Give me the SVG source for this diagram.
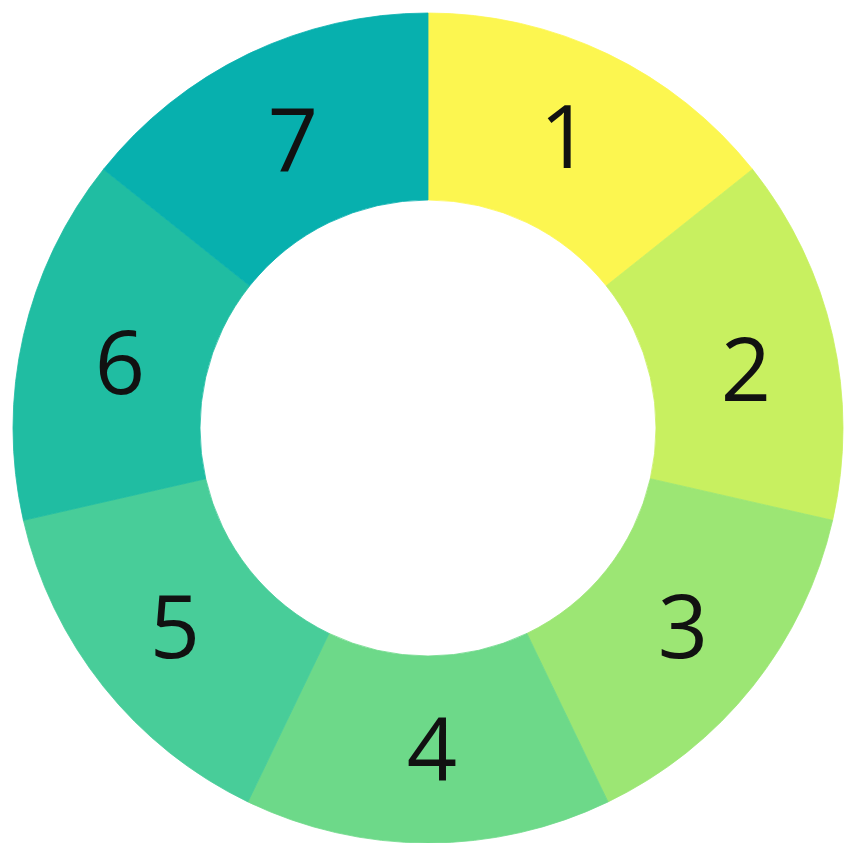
<svg xmlns="http://www.w3.org/2000/svg" width="848" height="843" viewBox="0 0 848 843">
<style>
.lbl{font-family:"Open Sans","Liberation Sans",sans-serif;font-size:88px;fill:#111;text-anchor:middle}
path{stroke-width:0.8}
</style>
<rect width="848" height="843" fill="#fff"/>
<g id="seg1"><path d="M428,13 A415,415 0 0 1 752.46,169.25 L606.26,285.84 A228,228 0 0 0 428,200 Z" fill="#FCF650" stroke="#FCF650"/><text class="lbl" x="565" y="168">1</text></g>
<g id="seg2"><path d="M752.46,169.25 A415,415 0 0 1 832.60,520.35 L650.28,478.73 A228,228 0 0 0 606.26,285.84 Z" fill="#C8F060" stroke="#C8F060"/><text class="lbl" x="746" y="401">2</text></g>
<g id="seg3"><path d="M832.60,520.35 A415,415 0 0 1 608.06,801.90 L526.93,633.42 A228,228 0 0 0 650.28,478.73 Z" fill="#9CE674" stroke="#9CE674"/><text class="lbl" x="683" y="658">3</text></g>
<g id="seg4"><path d="M608.06,801.90 A415,415 0 0 1 247.94,801.90 L329.07,633.42 A228,228 0 0 0 526.93,633.42 Z" fill="#6DD989" stroke="#6DD989"/><text class="lbl" x="432" y="781">4</text></g>
<g id="seg5"><path d="M247.94,801.90 A415,415 0 0 1 23.40,520.35 L205.72,478.73 A228,228 0 0 0 329.07,633.42 Z" fill="#48CD99" stroke="#48CD99"/><text class="lbl" x="175" y="658">5</text></g>
<g id="seg6"><path d="M23.40,520.35 A415,415 0 0 1 103.54,169.25 L249.74,285.84 A228,228 0 0 0 205.72,478.73 Z" fill="#20BDA2" stroke="#20BDA2"/><text class="lbl" x="120" y="394">6</text></g>
<g id="seg7"><path d="M103.54,169.25 A415,415 0 0 1 428,13 L428,200 A228,228 0 0 0 249.74,285.84 Z" fill="#07B0AE" stroke="#07B0AE"/><text class="lbl" x="293" y="171">7</text></g>
<g id="connectors"/>
</svg>
